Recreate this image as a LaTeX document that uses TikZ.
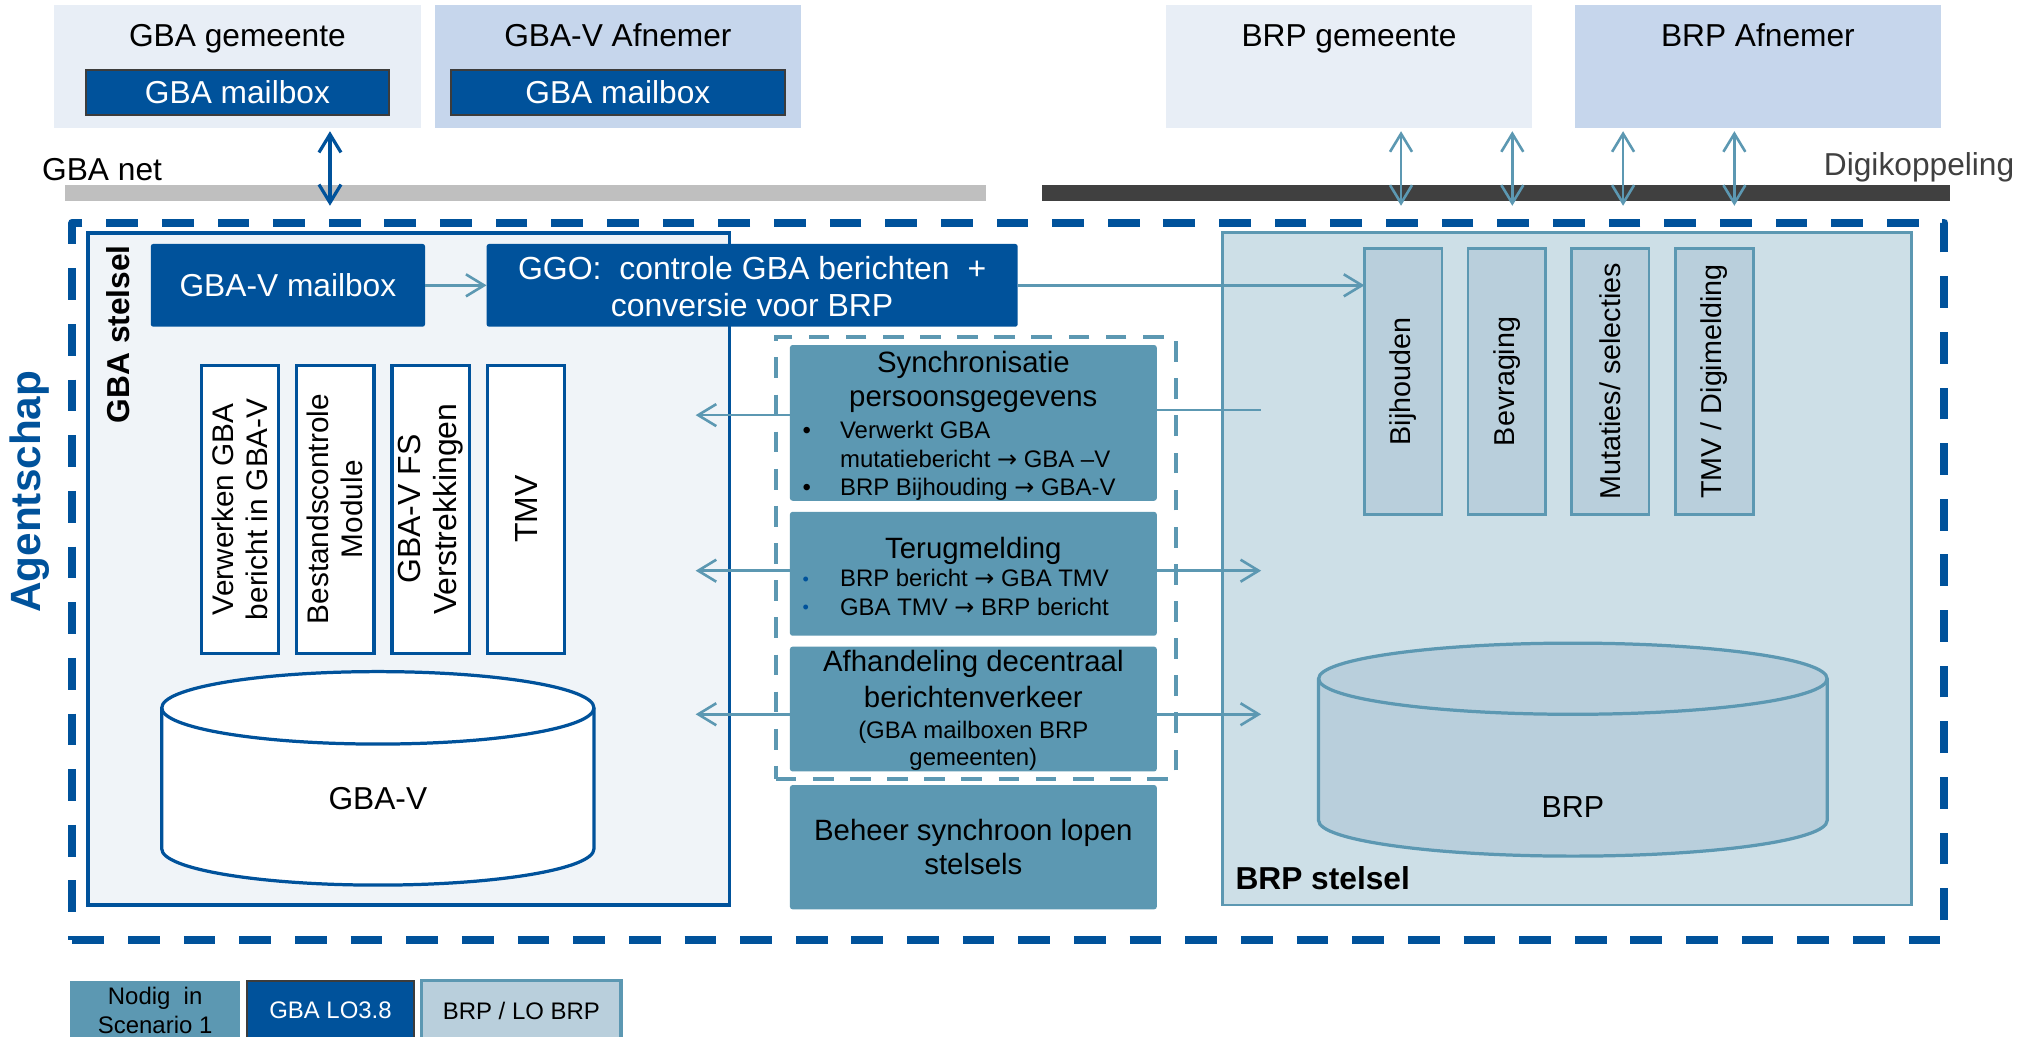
\documentclass[tikz,border=0pt]{standalone}
\usepackage{fontspec}
\setmainfont{Liberation Sans}
\newfontfamily\pijlfont{DejaVu Sans}
\usetikzlibrary{positioning, arrows.meta}

\definecolor{gbablue}{RGB}{0,82,155}
\definecolor{brpteal}{RGB}{92,152,178}
\definecolor{brplight}{RGB}{205,223,231}
\definecolor{brpbox}{RGB}{185,207,220}
\definecolor{gemfill}{RGB}{232,238,246}
\definecolor{afnfill}{RGB}{198,214,236}
\definecolor{gbafill}{RGB}{240,244,248}
\definecolor{netgray}{RGB}{191,191,191}
\definecolor{digigray}{RGB}{64,64,64}
\definecolor{mbxgray}{RGB}{60,60,60}

\newcommand{\fbig}{\fontsize{24.5}{29}\selectfont}
\newcommand{\fmid}{\fontsize{22.7}{26.6}\selectfont}
\newcommand{\fsmall}{\fontsize{18.5}{22}\selectfont}
\newcommand{\fvert}{\fontsize{23}{26}\selectfont}
\newcommand{\fbrp}{\fontsize{22.2}{26}\selectfont}
\newcommand{\fagent}{\fontsize{32.7}{36}\selectfont}
\newcommand{\pijl}{{\pijlfont →}}
\newcommand{\bitem}[2]{\makebox[264pt][l]{\makebox[29pt][l]{#1}#2}}
\newcommand{\bcont}[1]{\makebox[264pt][l]{\hspace*{29pt}#1}}
\newcommand{\bdot}{\textcolor{gbablue}{\raisebox{1pt}{\fontsize{14}{14}\selectfont\textbullet}}}

\begin{document}
\begin{tikzpicture}[
    x = 1pt, y = -1pt,
    > = {Straight Barb[length=14pt, width=17pt]},
    every node/.style = {outer sep = 0pt},
    topbox/.style = {minimum width = 283pt, minimum height = 95pt, text height = 32pt, text depth = 63pt, inner sep = 0pt, font = \fbig},
    mailbox/.style = {draw = mbxgray, line width = 1.5pt, fill = gbablue, text = white, minimum height = 35pt, inner sep = 0pt, font = \fbig},
    netbar/.style = {minimum height = 12pt, inner sep = 0pt},
    agentbox/.style = {draw = gbablue, line width = 6.2pt, dash pattern = on 24.5pt off 18.5pt, line join = round, inner sep = 0pt},
    stelsel/.style = {line width = 2.5pt, inner sep = 0pt},
    gbabox/.style = {fill = gbablue, text = white, minimum height = 64pt, rounded corners = 2pt, inner sep = 0pt, align = center, font = \fbig},
    gbamod/.style = {draw = gbablue, fill = white, line width = 2.5pt, rotate = 90, minimum width = 222.5pt, minimum height = 60pt, inner sep = 0pt, align = center, font = \fvert},
    brpmod/.style = {draw = brpteal, fill = brpbox, line width = 2pt, rotate = 90, minimum width = 205.6pt, minimum height = 60pt, inner sep = 0pt, font = \fbrp},
    midbox/.style = {fill = brpteal, minimum width = 283.5pt, rounded corners = 2pt, inner sep = 0pt, align = center, font = \fsmall},
    syncframe/.style = {draw = brpteal, line width = 3pt, dash pattern = on 16pt off 12.7pt, inner sep = 0pt},
    legbox/.style = {minimum height = 46pt, inner sep = 0pt, align = center, font = \fsmall},
    gbacyl/.style = {draw = gbablue, fill = white, line width = 2.5pt},
    brpcyl/.style = {draw = brpteal, fill = brpbox, line width = 2.5pt},
    dkarr/.style = {<->, draw = gbablue, line width = 2.5pt, shorten < = 2.4pt},
    tealarr/.style = {->, draw = brpteal, line width = 2pt},
    tealdbl/.style = {<->, draw = brpteal, line width = 2pt, shorten < = 2.4pt},
    tealline/.style = {draw = brpteal, line width = 2pt}
]
\path[use as bounding box, fill = white] (0,0) rectangle (1568,801);

% Agentschap
\node[agentbox, minimum width = 1446.6pt, minimum height = 554.4pt] (agent) at (779.3,449.2) {};
\node[rotate = 90, font = \bfseries\fagent, text = gbablue] (agentlbl) at (23,380) {Agentschap};

% Gemeenten en afnemers
\node[topbox, fill = gemfill]                   (gbagem) at (183.5,51.5) {GBA gemeente};
\node[topbox, fill = afnfill, right = 11pt of gbagem] (gbaafn) {GBA-V Afnemer};
\node[mailbox, minimum width = 234pt, below = 50pt of gbagem.north] (gemmbx) {GBA mailbox};
\node[mailbox, minimum width = 258pt, below = 50pt of gbaafn.north] (afnmbx) {GBA mailbox};

\node[topbox, fill = gemfill]                   (brpgem) at (1042.5,51.5) {BRP gemeente};
\node[topbox, fill = afnfill, right = 33pt of brpgem] (brpafn) {BRP Afnemer};

% Netwerken
\node[netbar, fill = netgray, minimum width = 711.6pt]  (gbanet) at (406,149) {};
\node[netbar, fill = digigray, minimum width = 701.4pt] (digi)   at (1156.3,149) {};
\node[anchor = base west, inner sep = 0pt, font = \fbig] (gbanetlbl) at (32.6,139.3) {GBA net};
\node[anchor = base east, inner sep = 0pt, font = \fbig, text = digigray] (digilbl) at (1556.6,136) {Digikoppeling};

\coordinate (gnet) at (255,159);
\coordinate (dk1)  at (1082.7,159);
\coordinate (dk2)  at (1168.7,159);
\coordinate (dk3)  at (1254.3,159);
\coordinate (dk4)  at (1340.3,159);

\draw[dkarr]   (gnet |- gbagem.south) -- (gnet);
\draw[tealdbl] (dk1 |- brpgem.south)  -- (dk1);
\draw[tealdbl] (dk2 |- brpgem.south)  -- (dk2);
\draw[tealdbl] (dk3 |- brpafn.south)  -- (dk3);
\draw[tealdbl] (dk4 |- brpafn.south)  -- (dk4);

% GBA stelsel
\node[stelsel, fill = gbafill, draw = gbablue, minimum width = 496pt, minimum height = 519.4pt] (gbast) at (316,439.7) {};
\node[rotate = 90, anchor = east, inner sep = 0pt, font = \bfseries\fbig] (gbastlbl) at ([xshift = 23.5pt, yshift = -9.5pt]gbast.north west) {GBA stelsel};

\node[gbabox, minimum width = 212pt] (gbavmbx) at (222.5,220.5) {GBA-V mailbox};
\node[gbabox, minimum width = 410.5pt, right = 47.5pt of gbavmbx, font = \fontsize{24.7}{29}\selectfont] (ggo) {\rule{0pt}{20pt}GGO:~ controle GBA berichten~ +\\conversie voor BRP};

\node[gbamod]                                            (verwerk) at (185.5,393.5) {Verwerken GBA\\bericht in GBA-V};
\node[gbamod]                                            (bestand) at (259,393.5)   {Bestandscontrole\\Module};
\node[gbamod, font = \fontsize{24.7}{28}\selectfont]     (verstr)  at (333,393.5)   {GBA-V FS\\Verstrekkingen};
\node[gbamod, font = \fontsize{24.7}{28}\selectfont]     (tmv)     at (406.5,393.5) {TMV};

\draw[gbacyl] (125,547) -- (125,656) arc[start angle = 180, end angle = 360, x radius = 167pt, y radius = 28pt]
    -- (459,547) arc[start angle = 0, end angle = 180, x radius = 167pt, y radius = 28pt] -- cycle;
\draw[gbacyl, fill = none] (125,547) arc[start angle = 180, end angle = 360, x radius = 167pt, y radius = 28pt];
\node[font = \fbig] (gbavdb) at (292,617) {GBA-V};

% BRP stelsel
\node[stelsel, fill = brplight, draw = brpteal, line width = 2pt, minimum width = 532.2pt, minimum height = 519.9pt] (brpst) at (1210.9,439.5) {};
\node[anchor = base west, inner sep = 0pt, font = \bfseries\fbig] (brpstlbl) at ([xshift = 10pt, yshift = 12pt]brpst.south west) {BRP stelsel};

\node[brpmod] (bijh)  at (1084.4,294.7) {Bijhouden};
\node[brpmod] (bevr)  at (1164.5,294.7) {Bevraging};
\node[brpmod] (mutsel) at (1244.3,294.7) {Mutaties/ selecties};
\node[brpmod] (digim) at (1324.9,294.7) {TMV / Digimelding};

\draw[brpcyl] (1019,524.5) -- (1019,634.1) arc[start angle = 180, end angle = 360, x radius = 196.5pt, y radius = 27.5pt]
    -- (1412,524.5) arc[start angle = 0, end angle = 180, x radius = 196.5pt, y radius = 27.5pt] -- cycle;
\draw[brpcyl, fill = none] (1019,524.5) arc[start angle = 180, end angle = 360, x radius = 196.5pt, y radius = 27.5pt];
\node[font = \fontsize{23.5}{28}\selectfont] (brpdb) at (1215.5,623.6) {BRP};

% Synchroon lopen
\node[midbox, minimum height = 119.4pt] (sync) at (752.2,326.8)
    {\rule{0pt}{21.5pt}{\fmid Synchronisatie}\\[4.3pt]{\fmid persoonsgegevens}\\[2.7pt]\bitem{\textbullet}{Verwerkt GBA}\\\bcont{mutatiebericht \pijl{} GBA –V}\\\bitem{\textbullet}{BRP Bijhouding \pijl{} GBA-V}};
\node[midbox, minimum height = 95.7pt, below = 8.6pt of sync] (terug)
    {\rule{0pt}{20pt}{\fmid Terugmelding}\\\bitem{\bdot}{BRP bericht \pijl{} GBA TMV}\\\bitem{\bdot}{GBA TMV \pijl{} BRP bericht}};
\node[midbox, minimum height = 96.4pt, below = 8.5pt of terug] (afhand)
    {\rule{0pt}{19pt}{\fmid Afhandeling decentraal}\\[5.6pt]{\fmid berichtenverkeer}\\[1.7pt](GBA mailboxen BRP\\[-0.6pt]gemeenten)};
\node[midbox, minimum height = 96pt, font = \fmid] (beheer) at (752.2,654.7) {Beheer synchroon lopen\\stelsels};

\coordinate (gbaside) at (537.6,0);
\coordinate (brpside) at (974.6,0);

% Koppelingen
\draw[tealarr]  (gbavmbx) -- (ggo);
\draw[tealarr]  (ggo.east) -- (ggo.east -| bijh.north);
\draw[tealarr]  ([yshift = 6pt]sync.west)   -- ([yshift = 6pt]sync.west -| gbaside);
\draw[tealline] ([yshift = 10pt]sync.east)  -- ([yshift = 10pt]sync.east -| brpside);
\draw[tealarr]  ([yshift = 2.4pt]terug.west) -- ([yshift = 2.4pt]terug.west -| gbaside);
\draw[tealarr]  ([yshift = 2.4pt]terug.east) -- ([yshift = 2.4pt]terug.east -| brpside);
\draw[tealarr]  ([yshift = -4pt]afhand.west) -- ([yshift = -4pt]afhand.west -| gbaside);
\draw[tealarr]  ([yshift = -4pt]afhand.east) -- ([yshift = -4pt]afhand.east -| brpside);

\node[syncframe, minimum width = 309pt, minimum height = 341.8pt] (syncfr) at (754,431.1) {};

% Legenda
\node[legbox, fill = brpteal, minimum width = 131pt] (legsc) at (119.9,781) {Nodig~ in\\Scenario 1};
\node[legbox, fill = gbablue, draw = mbxgray, line width = 1.5pt, text = white, minimum width = 129pt, right = 5.5pt of legsc] (leggba) {GBA LO3.8};
\node[legbox, fill = brpbox, draw = brpteal, line width = 2.5pt, minimum width = 154pt, right = 6pt of leggba] (legbrp) {BRP / LO BRP};

\end{tikzpicture}
\end{document}
